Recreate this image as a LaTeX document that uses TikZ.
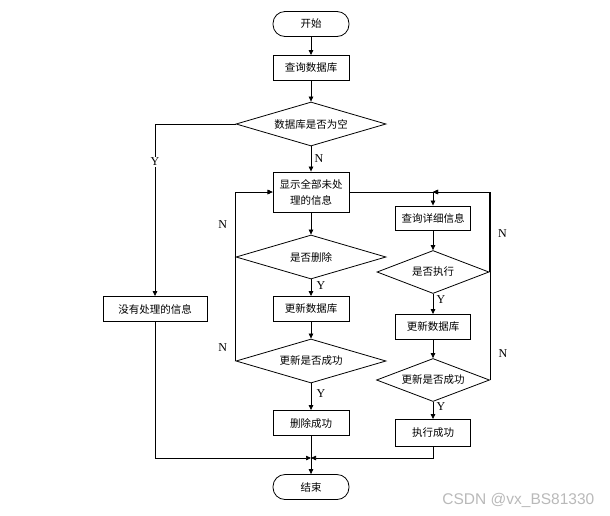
\documentclass[tikz,border=0pt]{standalone}
\usepackage{fontspec}
\setmainfont{Liberation Serif}
\newfontfamily\cjk{Noto Sans CJK SC}
\newfontfamily\markfont{Liberation Sans}
\usetikzlibrary{positioning,shapes.geometric,arrows.meta}

\begin{document}
\begin{tikzpicture}[x=1pt,y=-1pt,on grid,
		>={Triangle[length=5pt,width=4.5pt]},
		every node/.style={font=\fontsize{12}{14}\selectfont},
		box/.style={draw,line width=0.9pt,minimum width=76pt,minimum height=25pt,inner sep=2pt,font=\cjk\fontsize{10.5}{13}\selectfont},
		term/.style={box,rounded corners=12pt,line width=0.8pt},
		cond/.style={draw,diamond,aspect=3.4,line width=0.8pt,minimum width=150pt,minimum height=44pt,inner sep=0pt,font=\cjk\fontsize{10.5}{13}\selectfont},
		every path/.style={line width=0.7pt}]
			\useasboundingbox (0,0) rectangle (610,515);
			% middle column
			\node[term] (start) at (311,24) {开始};
			\node[box] (query) [below=44pt of start] {查询数据库};
			\node[cond] (isempty) [below=56pt of query] {数据库是否为空};
			\node[box,minimum height=40pt,align=center,font=\cjk\fontsize{10.5}{16}\selectfont] (show) [below=68pt of isempty] {显示全部未处\\理的信息};
			\node[cond] (isdel) [below=65pt of show] {是否删除};
			\node[box] (upd_1) [below=52pt of isdel] {更新数据库};
			\node[cond] (ok_1) [below=52pt of upd_1] {更新是否成功};
			\node[box] (delok) [below=62pt of ok_1] {删除成功};
			\node[term] (stop) [below=64pt of delok] {结束};
			\coordinate[below=35pt of delok] (join);
			% left
			\node[box,minimum width=104pt] (none) [left=156pt of upd_1] {没有处理的信息};
			% right column
			\node[box,minimum width=75pt,minimum height=24pt] (detail) [below right=26pt and 122pt of show] {查询详细信息};
			\node[cond,minimum width=112pt,minimum height=43pt] (isexec) [below=54pt of detail] {是否执行};
			\node[box,minimum width=75pt] (upd_2) [below=55pt of isexec] {更新数据库};
			\node[cond,minimum width=113pt,minimum height=43pt] (ok_2) [below=53pt of upd_2] {更新是否成功};
			\node[box,minimum width=75pt,minimum height=27pt] (execok) [below=53pt of ok_2] {执行成功};
			\coordinate (top) at (detail.north |- show.east);
			\path[->]
			(start) edge (query)
			(query) edge (isempty)
			(isempty) edge node[right] {N} (show)
			(show) edge (isdel)
			(isdel) edge node[pos=0.35,right=2pt] {Y} (upd_1)
			(upd_1) edge (ok_1)
			(ok_1) edge node[pos=0.4,right=2pt] {Y} (delok)
			(detail) edge (isexec)
			(isexec) edge node[pos=0.3,right] {Y} (upd_2)
			(upd_2) edge (ok_2)
			(ok_2) edge node[pos=0.3,right] {Y} (execok);
			\draw[->] (delok) -- (stop);
			\draw[->] (isempty.west) -| node[pos=0.61,fill=white,inner sep=1pt] {Y} (none.north);
			\draw[->] (none.south) |- (join);
			\draw[->] (execok.south) |- (join);
			% loops back
			\draw[->] (isdel.west) |- node[pos=0.25,left=5pt] {N} (show.west);
			\draw[->] (ok_1.west) |- node[pos=0.04,left=5pt] {N} (show.west);
			\draw[->] (show.east) -| (detail.north);
			\draw[->] (isexec.east) |- node[pos=0.24,right=5pt] {N} (top);
			\draw[->] (ok_2.east) |- node[pos=0.07,right=5pt] {N} (top);
			\node[anchor=east,text=gray!55,font=\markfont\fontsize{15.5}{18}\selectfont] (mark) at (598,500) {CSDN @vx\_BS81330};
		\end{tikzpicture}
\end{document}
